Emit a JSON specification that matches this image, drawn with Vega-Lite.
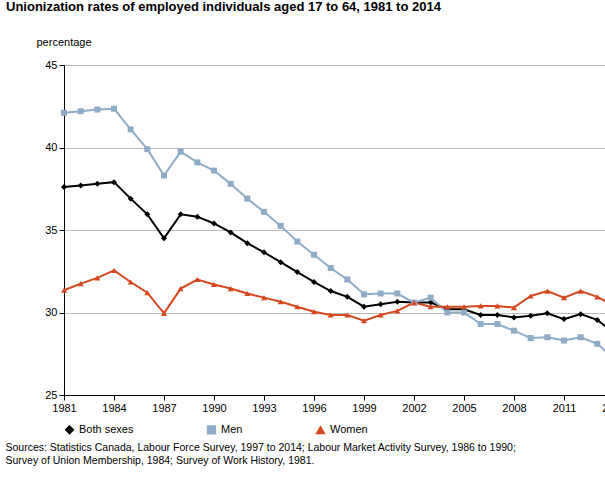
{
  "$schema": "https://vega.github.io/schema/vega-lite/v6.json",
  "padding": {"left": 5, "right": 14, "top": 0, "bottom": 2},
  "title": {
    "text": ["Sources: Statistics Canada, Labour Force Survey, 1997 to 2014; Labour Market Activity Survey, 1986  to 1990;", "Survey of Union Membership, 1984; Survey of Work History, 1981."],
    "orient": "bottom", "anchor": "start", "fontSize": 10.5, "fontWeight": "normal",
    "font": "Liberation Sans", "color": "black", "offset": 6, "lineHeight": 13
  },
  "vconcat": [
    {
      "width": 550,
      "height": 330,
      "title": {
        "text": "Unionization rates of employed individuals aged 17 to 64, 1981 to 2014",
        "anchor": "start", "fontSize": 13, "font": "Liberation Sans", "fontWeight": "bold",
        "color": "black", "offset": 22, "dx": -30
      },
      "data": {
        "values": [
          {"year":1981,"Both sexes":37.6,"Men":42.1,"Women":31.35},
          {"year":1982,"Both sexes":37.7,"Men":42.2,"Women":31.75},
          {"year":1983,"Both sexes":37.8,"Men":42.3,"Women":32.1},
          {"year":1984,"Both sexes":37.9,"Men":42.35,"Women":32.55},
          {"year":1985,"Both sexes":36.9,"Men":41.1,"Women":31.85},
          {"year":1986,"Both sexes":35.95,"Men":39.9,"Women":31.2},
          {"year":1987,"Both sexes":34.5,"Men":38.3,"Women":29.95},
          {"year":1988,"Both sexes":35.95,"Men":39.75,"Women":31.45},
          {"year":1989,"Both sexes":35.8,"Men":39.1,"Women":32.0},
          {"year":1990,"Both sexes":35.4,"Men":38.6,"Women":31.7},
          {"year":1991,"Both sexes":34.85,"Men":37.8,"Women":31.45},
          {"year":1992,"Both sexes":34.2,"Men":36.9,"Women":31.15},
          {"year":1993,"Both sexes":33.65,"Men":36.1,"Women":30.9},
          {"year":1994,"Both sexes":33.05,"Men":35.25,"Women":30.65},
          {"year":1995,"Both sexes":32.45,"Men":34.3,"Women":30.35},
          {"year":1996,"Both sexes":31.85,"Men":33.5,"Women":30.05},
          {"year":1997,"Both sexes":31.3,"Men":32.7,"Women":29.85},
          {"year":1998,"Both sexes":30.95,"Men":32.0,"Women":29.85},
          {"year":1999,"Both sexes":30.35,"Men":31.1,"Women":29.5},
          {"year":2000,"Both sexes":30.5,"Men":31.15,"Women":29.85},
          {"year":2001,"Both sexes":30.65,"Men":31.15,"Women":30.1},
          {"year":2002,"Both sexes":30.6,"Men":30.6,"Women":30.6},
          {"year":2003,"Both sexes":30.6,"Men":30.9,"Women":30.35},
          {"year":2004,"Both sexes":30.2,"Men":30.0,"Women":30.35},
          {"year":2005,"Both sexes":30.2,"Men":30.0,"Women":30.35},
          {"year":2006,"Both sexes":29.85,"Men":29.3,"Women":30.4},
          {"year":2007,"Both sexes":29.85,"Men":29.3,"Women":30.4},
          {"year":2008,"Both sexes":29.7,"Men":28.9,"Women":30.3},
          {"year":2009,"Both sexes":29.8,"Men":28.45,"Women":31.0},
          {"year":2010,"Both sexes":29.95,"Men":28.5,"Women":31.3},
          {"year":2011,"Both sexes":29.6,"Men":28.3,"Women":30.9},
          {"year":2012,"Both sexes":29.9,"Men":28.5,"Women":31.3},
          {"year":2013,"Both sexes":29.55,"Men":28.1,"Women":30.95},
          {"year":2014,"Both sexes":28.75,"Men":27.2,"Women":30.4}
        ]
      },
      "transform": [{"fold": ["Both sexes", "Men", "Women"], "as": ["series", "rate"]}],
      "mark": {"type": "line", "strokeWidth": 2, "point": {"filled": true, "size": 36, "opacity": 1}},
      "encoding": {
        "x": {
          "field": "year", "type": "quantitative",
          "scale": {"domain": [1981, 2014], "nice": false, "zero": false},
          "axis": {"values": [1981,1984,1987,1990,1993,1996,1999,2002,2005,2008,2011,2014], "format": "d", "title": null, "grid": false, "labelFontSize": 11, "labelColor": "black", "domainColor": "black", "tickColor": "black", "labelFont": "Liberation Sans", "labelBound": false, "labelFlush": false}
        },
        "y": {
          "field": "rate", "type": "quantitative",
          "scale": {"domain": [25, 45], "nice": false, "zero": false},
          "axis": {"values": [25,30,35,40,45], "title": "percentage", "titleAngle": 0, "titleAlign": "left", "titleAnchor": "end", "titleX": -28, "titleY": -18, "titleFontWeight": "normal", "titleFontSize": 11, "titleFont": "Liberation Sans", "labelFontSize": 11, "labelColor": "black", "labelFont": "Liberation Sans", "gridColor": "#bbbbbb", "domainColor": "black", "tickColor": "black"}
        },
        "color": {
          "field": "series", "type": "nominal",
          "scale": {"domain": ["Both sexes", "Men", "Women"], "range": ["#000000", "#8eacc8", "#d7471d"]},
          "legend": {"title": null, "orient": "bottom", "direction": "horizontal", "columnPadding": 70, "labelFontSize": 11, "labelFont": "Liberation Sans", "symbolSize": 60, "offset": 10, "padding": 0}
        },
        "shape": {
          "field": "series", "type": "nominal",
          "scale": {"domain": ["Both sexes", "Men", "Women"], "range": ["diamond", "square", "triangle-up"]},
          "legend": null
        }
      }
    }
  ],
  "config": {"view": {"stroke": "black"}, "font": "Liberation Sans"}
}
